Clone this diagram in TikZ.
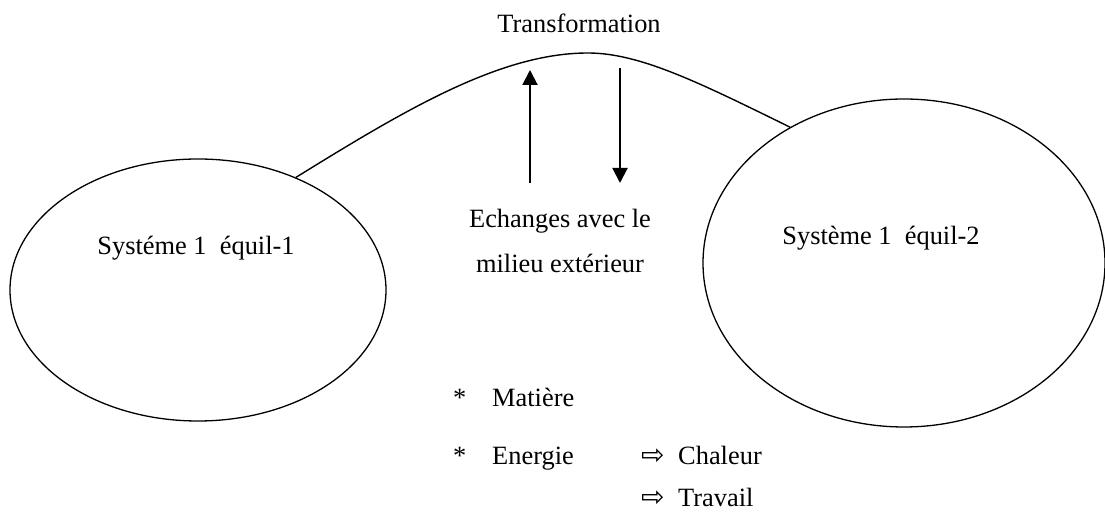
\documentclass[tikz,border=0pt]{standalone}
\usepackage{fontspec}
\setmainfont{Liberation Serif}
\newfontfamily\arrowfont{DejaVu Sans}
\usepackage{tikz}
\usetikzlibrary{shapes.geometric,arrows.meta}

\begin{document}
\begin{tikzpicture}[x=1pt,y=1pt,font=\fontsize{26.4}{31}\selectfont,
  sys/.style={draw,ellipse,line width=1.3pt,inner sep=0pt},
  lbl/.style={inner sep=0pt,anchor=base},
  txt/.style={inner sep=0pt,anchor=base west},
  dbl/.style={txt,font=\arrowfont\fontsize{28}{32}\selectfont},
  flux/.style={line width=2pt,-{Triangle[length=15pt,width=15pt]}}]
\useasboundingbox (0,0) rectangle (1105,516);
%\draw[help lines,step=50](0,0)grid(1105,516);
% the two states
\node[sys,minimum width=376pt,minimum height=262pt] (sys1) at (198,226) {};
\node[sys,minimum width=402pt,minimum height=328pt] (sys2) at (904,253) {};
\node[lbl] (eq1) at (196,261) {Systéme 1\ \ équil-1};
\node[lbl] (eq2) at (881,271) {Système 1\ \ équil-2};
% transformation
\draw[line width=1.4pt] (sys1.49) .. controls (405,406) and (500,463) .. (588,463)
  .. controls (640,463) and (700,433) .. (sys2.130);
\node[lbl] (trans) at (579,483) {Transformation};
\coordinate (in0) at (530,333);
\coordinate (in1) at (530,446);
\coordinate (out0) at (620,448);
\coordinate (out1) at (620,333);
\draw[flux] (in0) -- (in1);
\draw[flux] (out0) -- (out1);
\node[lbl] (ech1) at (560,288) {Echanges avec le};
\node[lbl] (ech2) at (560,243) {milieu extérieur};
% what is exchanged
\node[txt] (st1) at (453,109) {*};
\node[txt] (mat) at (492,109) {Matière};
\node[txt] (st2) at (453,51) {*};
\node[txt] (ener) at (492,51) {Energie};
\node[dbl] (ar1) at (641,51) {⇨};
\node[txt] (chal) at (678,51) {Chaleur};
\node[dbl] (ar2) at (641,9) {⇨};
\node[txt] (trav) at (678,9) {Travail};
\end{tikzpicture}
\end{document}
